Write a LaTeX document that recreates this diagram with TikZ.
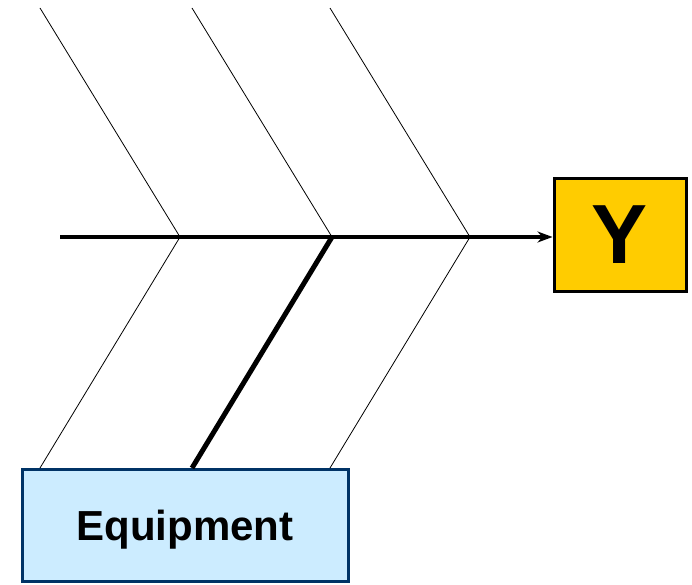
\documentclass[tikz,border=0pt]{standalone}
\usepackage{fontspec}
\setmainfont{Liberation Sans}
\usetikzlibrary{shadows, arrows.meta}

\definecolor{effectgold}{HTML}{FFCC00}
\definecolor{causeblue}{HTML}{CCECFF}
\definecolor{causeborder}{HTML}{003366}

\tikzset{
  effectbox/.style={draw=black, line width=3pt, fill=effectgold,
    minimum width=132pt, minimum height=113pt, inner sep=0pt,
    font=\fontsize{84}{84}\selectfont\bfseries,
    drop shadow={shadow xshift=1.5pt, shadow yshift=-1.5pt, fill=gray!60, opacity=1}},
  causebox/.style={draw=causeborder, line width=3pt, fill=causeblue,
    minimum width=326pt, minimum height=112pt, inner sep=0pt,
    text depth=0pt, font=\fontsize{42}{42}\selectfont\bfseries},
  rib/.style={line width=0.8pt},
  mainrib/.style={line width=5pt},
  spine/.style={line width=4pt, -{Stealth[length=15pt, width=11pt]}}
}

\begin{document}
\begin{tikzpicture}[x=1pt, y=-1pt]
  \useasboundingbox (0,0) rectangle (692,585);
  % Effect and the one named cause
  \node[effectbox] (effect) at (620,235) {Y};
  \node[causebox] (equipment) at (185,525) {Equipment};
  % Junctions on the spine
  \coordinate (tail) at (60,237);
  \foreach \n/\x in {1/180, 2/332, 3/470} {
    \coordinate (j\n) at (\x,237);
  }
  % Spine into the effect box
  \draw[spine] (tail) -- (tail -| effect.west);
  % Upper ribs
  \foreach \n/\x in {1/40, 2/192, 3/330} {
    \coordinate (t\n) at (\x,8);
    \draw[rib] (t\n) -- (j\n);
  }
  % Lower ribs, the middle one leads to the cause box
  \coordinate (b1) at (40,468);
  \coordinate (b2) at (192,468);
  \coordinate (b3) at (330,468);
  \draw[rib] (j1) -- (b1);
  \draw[rib] (j3) -- (b3);
  \draw[mainrib] (j2) -- (b2);
\end{tikzpicture}
\end{document}
